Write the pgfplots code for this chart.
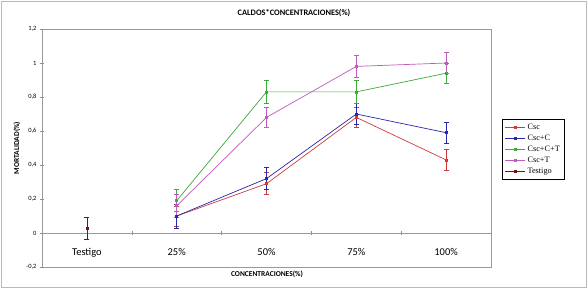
\documentclass[border=0pt]{standalone}
\usepackage{pgfplots}
\pgfplotsset{compat=1.18}
\usepackage{pgfplotstable}
\usepackage{fontspec}
\setmainfont{Carlito}
\newfontfamily\legfont{Liberation Serif}
\definecolor{cscred}{RGB}{205,60,60}
\definecolor{cscblue}{RGB}{40,40,170}
\definecolor{cscgreen}{RGB}{60,170,60}
\definecolor{cscorchid}{RGB}{190,90,190}
\definecolor{testigo}{RGB}{110,20,20}
\pgfplotstableread{
x y e
1.5 0.10 0.06
2.5 0.29 0.065
3.5 0.68 0.06
4.5 0.43 0.06
}\csc
\pgfplotstableread{
x y e
1.5 0.10 0.07
2.5 0.32 0.065
3.5 0.70 0.06
4.5 0.59 0.06
}\cscc
\pgfplotstableread{
x y e
1.5 0.19 0.065
2.5 0.83 0.07
3.5 0.83 0.07
4.5 0.94 0.06
}\csccT
\pgfplotstableread{
x y e
1.5 0.16 0.065
2.5 0.68 0.06
3.5 0.98 0.065
4.5 1.00 0.06
}\cscT
\pgfplotstableread{
x y e
0.5 0.03 0.065
}\testigo
\begin{document}
\begin{tikzpicture}[x=1bp,y=1bp]
\useasboundingbox (0,0) rectangle (588,289);
\fill[white] (0,0) rectangle (588,289);
\draw[gray!55, line width=1.5bp] (1.5,1.5) rectangle (586.5,287.5);
\draw[gray!80, line width=0.6bp] (42,22) rectangle (491,260);
\node[font=\bfseries\fontsize{8.4}{10}\selectfont] at (294,276) {CALDOS*CONCENTRACIONES(\%)};
\node[font=\bfseries\fontsize{7.5}{9}\selectfont] at (267,15) {CONCENTRACIONES(\%)};
\node[font=\bfseries\fontsize{7.5}{9}\selectfont, rotate=90] at (17,141) {MORTALIDAD(\%)};
\begin{axis}[
  at={(42bp,22bp)}, anchor=south west,
  width=449bp, height=238bp, scale only axis,
  xmin=0, xmax=5, ymin=-0.2, ymax=1.2,
  axis x line*=middle, axis y line*=left,
  axis line style={gray!80, line width=0.6bp},
  tick style={gray!90, line width=0.6bp},
  tick align=center, major tick length=0pt, minor tick length=4.5bp,
  xtick={0.5,1.5,2.5,3.5,4.5},
  xticklabels={Testigo,25\%,50\%,75\%,100\%},
  minor xtick={1,2,3,4},
  x tick label style={yshift=-12bp, font=\fontsize{10.5}{12}\selectfont},
  ytick={-0.2,0,0.2,0.4,0.6,0.8,1,1.2},
  minor ytick={-0.2,0,0.2,0.4,0.6,0.8,1,1.2},
  yticklabel style={xshift=-2bp, font=\fontsize{6.5}{8}\selectfont, /pgf/number format/.cd, use comma, fixed, precision=1, assume math mode=true},
  clip=false,
  legend style={at={(1.0245,0.622)}, anchor=north west, draw=black, line width=0.7bp,
    font=\legfont\fontsize{8.3}{9.5}\selectfont, row sep=0pt, inner sep=2.5bp,
    cells={anchor=west}},
  legend image code/.code={\draw[mark repeat=2,mark phase=2,#1] plot coordinates {(0bp,0bp)(10bp,0bp)(20bp,0bp)};},
  every axis plot/.append style={line width=0.7bp, mark=square*, mark size=1bp,
    error bars/y dir=both, error bars/y explicit,
    error bars/error bar style={line width=0.6bp},
    error bars/error mark options={rotate=90, mark size=2.5bp, line width=0.6bp}},
]
\addplot[color=cscred] table[x=x,y=y,y error=e] {\csc};
\addlegendentry{Csc}
\addplot[color=cscblue] table[x=x,y=y,y error=e] {\cscc};
\addlegendentry{Csc+C}
\addplot[color=cscgreen] table[x=x,y=y,y error=e] {\csccT};
\addlegendentry{Csc+C+T}
\addplot[color=cscorchid] table[x=x,y=y,y error=e] {\cscT};
\addlegendentry{Csc+T}
\addplot[color=testigo] table[x=x,y=y,y error=e] {\testigo};
\addlegendentry{Testigo}
\end{axis}
\end{tikzpicture}
\end{document}
